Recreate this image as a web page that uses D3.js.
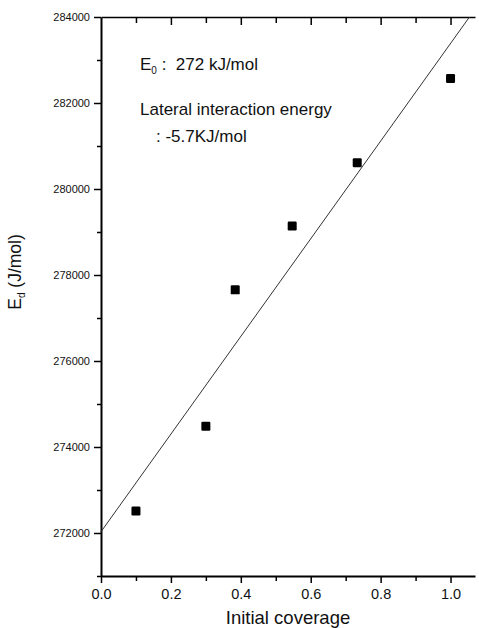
<!DOCTYPE html>
<html>
<head>
<meta charset="utf-8">
<script src="https://cdn.jsdelivr.net/npm/d3@7"></script>
<style>
  body { margin: 0; background: #fff; }
  svg { font-family: "Liberation Sans", Arial, sans-serif; }
  .note text { white-space: pre; }
</style>
</head>
<body>
<div id="chart"></div>
<script>
// values
var coverage = [0.10, 0.30, 0.384, 0.547, 0.733, 1.00];
var energy = [272510, 274485, 277655, 279140, 280610, 282570];
var xMajorTicks = [0, 0.2, 0.4, 0.6, 0.8, 1.0];
var xMinorTicks = [0.1, 0.3, 0.5, 0.7, 0.9];
var yMajorTicks = [272000, 274000, 276000, 278000, 280000, 282000, 284000];
var yMinorTicks = [271000, 273000, 275000, 277000, 279000, 281000, 283000];

var svgWidth = 479;
var svgHeight = 628;
var margin = { top: 17, right: 4, bottom: 52, left: 101 };
var width = svgWidth - margin.left - margin.right;
var height = svgHeight - margin.top - margin.bottom;

var svg = d3.select("#chart")
  .append("svg")
  .attr("width", svgWidth)
  .attr("height", svgHeight);

var chartGroup = svg.append("g")
  .attr("transform", `translate(${margin.left}, ${margin.top})`);

var xScale = d3.scaleLinear().domain([0, 1.07]).range([0, width]);
var yScale = d3.scaleLinear().domain([271000, 284000]).range([height, 0]);

// top frame line with inward ticks
var topAxis = chartGroup.append("g")
  .call(d3.axisTop(xScale).tickValues(xMajorTicks.slice(1)).tickSize(-8).tickSizeOuter(0).tickFormat(""));
topAxis.select(".domain").attr("stroke-width", 1.6);
chartGroup.append("g")
  .call(d3.axisTop(xScale).tickValues(xMinorTicks).tickSize(-6).tickFormat(""))
  .select(".domain").remove();

// bottom axis
var bottomAxis = chartGroup.append("g")
  .attr("transform", `translate(0, ${height})`)
  .call(d3.axisBottom(xScale).tickValues(xMajorTicks).tickSize(7).tickSizeOuter(0).tickPadding(6)
    .tickFormat(d3.format(".1f")));
bottomAxis.select(".domain").attr("stroke-width", 2);
bottomAxis.selectAll("text").attr("font-size", "14.5px").attr("fill", "#111");
chartGroup.append("g")
  .attr("transform", `translate(0, ${height})`)
  .call(d3.axisBottom(xScale).tickValues(xMinorTicks).tickSize(5).tickFormat(""))
  .select(".domain").remove();

// left axis
var leftAxis = chartGroup.append("g")
  .call(d3.axisLeft(yScale).tickValues(yMajorTicks).tickSize(7).tickSizeOuter(0).tickPadding(4)
    .tickFormat(d3.format("d")));
leftAxis.select(".domain").attr("stroke-width", 2);
leftAxis.selectAll("text").attr("font-size", "11px").attr("fill", "#111");
chartGroup.append("g")
  .call(d3.axisLeft(yScale).tickValues(yMinorTicks).tickSize(4).tickFormat(""))
  .select(".domain").remove();

chartGroup.selectAll(".tick line").attr("stroke-width", 1.5);

// least-squares fit through the points
var mx = d3.mean(coverage);
var my = d3.mean(energy);
var sxy = d3.sum(coverage, (c, i) => (c - mx) * (energy[i] - my));
var sxx = d3.sum(coverage, c => (c - mx) * (c - mx));
var slope = sxy / sxx;
var intercept = my - slope * mx;
var xEnd = Math.min(xScale.domain()[1], (yScale.domain()[1] - intercept) / slope);

chartGroup.append("line")
  .attr("x1", xScale(0))
  .attr("y1", yScale(intercept))
  .attr("x2", xScale(xEnd))
  .attr("y2", yScale(intercept + slope * xEnd))
  .attr("stroke", "#333")
  .attr("stroke-width", 1);

// square markers
var size = 9;
chartGroup.selectAll("rect.pt")
  .data(coverage)
  .enter()
  .append("rect")
  .attr("class", "pt")
  .attr("x", d => xScale(d) - size / 2)
  .attr("y", (d, i) => yScale(energy[i]) - size / 2)
  .attr("width", size)
  .attr("height", size)
  .attr("rx", 1.2)
  .attr("fill", "#000");

// annotations
var note = svg.append("g").attr("class", "note").attr("fill", "#111").attr("font-size", "17px");
var e0 = note.append("text").attr("x", 140).attr("y", 70);
e0.append("tspan").text("E");
e0.append("tspan").attr("font-size", "10px").attr("dy", 4).text("0");
e0.append("tspan").attr("dy", -4).text(" :  272 kJ/mol");

note.append("text").attr("x", 140).attr("y", 115).text("Lateral interaction energy");
note.append("text").attr("x", 156).attr("y", 142).text(": -5.7KJ/mol");

// axis titles
svg.append("text")
  .attr("x", margin.left + xScale(0.535))
  .attr("y", 624)
  .attr("text-anchor", "middle")
  .attr("font-size", "18.5px")
  .attr("fill", "#111")
  .text("Initial coverage");

var yTitle = svg.append("text")
  .attr("transform", "translate(21, 272) rotate(-90)")
  .attr("text-anchor", "middle")
  .attr("font-size", "17.5px")
  .attr("fill", "#111");
yTitle.append("tspan").text("E");
yTitle.append("tspan").attr("font-size", "10px").attr("dy", 4).text("d");
yTitle.append("tspan").attr("dy", -4).text(" (J/mol)");
</script>
</body>
</html>
